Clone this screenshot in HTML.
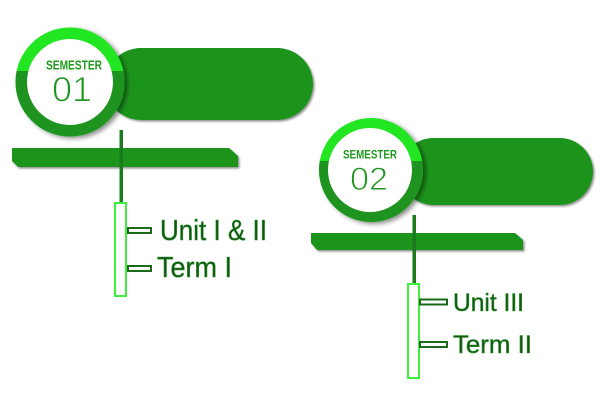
<!DOCTYPE html>
<html>
<head>
<meta charset="utf-8">
<style>
html,body{margin:0;padding:0;background:#fff;}
svg{display:block;}
</style>
</head>
<body>
<svg width="600" height="403" viewBox="0 0 600 403" xmlns="http://www.w3.org/2000/svg">
  <defs>
    <filter id="sh" x="-10%" y="-10%" width="130%" height="140%">
      <feDropShadow dx="1.5" dy="1.5" stdDeviation="1" flood-color="#000" flood-opacity="0.45"/>
    </filter>
    <filter id="csh" x="-20%" y="-20%" width="150%" height="150%">
      <feDropShadow dx="3" dy="2" stdDeviation="2.5" flood-color="#000" flood-opacity="0.45"/>
    </filter>
    <clipPath id="low1"><rect x="0" y="71" width="200" height="100"/></clipPath>
    <clipPath id="low2"><rect x="300" y="161" width="200" height="100"/></clipPath>
  </defs>

  <!-- ===== Semester 1 ===== -->
  <rect x="105" y="48" width="208" height="72" rx="36" ry="36" fill="#1f941f" filter="url(#sh)"/>
  <polygon points="12,148 229,148 238,156 238,167 18,167 12,161" fill="#1f941f" filter="url(#sh)"/>
  <rect x="119.5" y="130" width="3.5" height="73" fill="#1b7a1b"/>
  <g filter="url(#csh)">
    <circle cx="70" cy="82" r="54.5" fill="#22e622"/>
  </g>
  <circle cx="70" cy="82" r="54.5" fill="#1f931f" clip-path="url(#low1)"/>
  <circle cx="70" cy="82" r="43" fill="#fff"/>
  <text x="46" y="69.5" font-family="'Liberation Sans', sans-serif" font-size="13" font-weight="bold" fill="#1f9a1f" textLength="56" lengthAdjust="spacingAndGlyphs">SEMESTER</text>
  <text x="52" y="101.5" font-family="'Liberation Sans', sans-serif" font-size="35" fill="#1f951f" stroke="#fff" stroke-width="0.9" textLength="40" lengthAdjust="spacingAndGlyphs">01</text>

  <rect x="115" y="203" width="11" height="93" fill="#fff" stroke="#3df03d" stroke-width="2"/>
  <rect x="128" y="228" width="23" height="5" fill="#fff" stroke="#1a6a1a" stroke-width="2"/>
  <rect x="128" y="266" width="23" height="5" fill="#fff" stroke="#1a6a1a" stroke-width="2"/>
  <text x="160" y="240" font-family="'Liberation Sans', sans-serif" font-size="29" fill="#155515" stroke="#2f9a2f" stroke-width="0.6" textLength="107" lengthAdjust="spacingAndGlyphs">Unit I &amp; II</text>
  <text x="157" y="277" font-family="'Liberation Sans', sans-serif" font-size="29" fill="#155515" stroke="#2f9a2f" stroke-width="0.6" textLength="75" lengthAdjust="spacingAndGlyphs">Term I</text>

  <!-- ===== Semester 2 ===== -->
  <rect x="400" y="138" width="193" height="67" rx="33.5" ry="33.5" fill="#1f941f" filter="url(#sh)"/>
  <polygon points="311,233 515,233 523,240 523,250 317,250 311,243" fill="#1f941f" filter="url(#sh)"/>
  <rect x="412.5" y="215" width="3.5" height="69" fill="#1b7a1b"/>
  <g filter="url(#csh)">
    <circle cx="371" cy="170" r="52" fill="#22e622"/>
  </g>
  <circle cx="371" cy="170" r="52" fill="#1f931f" clip-path="url(#low2)"/>
  <circle cx="370" cy="170" r="42" fill="#fff"/>
  <text x="343" y="158.5" font-family="'Liberation Sans', sans-serif" font-size="12" font-weight="bold" fill="#1f9a1f" textLength="54" lengthAdjust="spacingAndGlyphs">SEMESTER</text>
  <text x="350" y="190" font-family="'Liberation Sans', sans-serif" font-size="32" fill="#1f951f" stroke="#fff" stroke-width="0.9" textLength="38" lengthAdjust="spacingAndGlyphs">02</text>

  <rect x="408" y="284" width="11" height="94" fill="#fff" stroke="#3df03d" stroke-width="2"/>
  <rect x="420" y="299.5" width="27" height="5" fill="#fff" stroke="#1a6a1a" stroke-width="2"/>
  <rect x="420" y="342" width="27" height="5" fill="#fff" stroke="#1a6a1a" stroke-width="2"/>
  <text x="453" y="311" font-family="'Liberation Sans', sans-serif" font-size="25" fill="#155515" stroke="#2f9a2f" stroke-width="0.6" textLength="71" lengthAdjust="spacingAndGlyphs">Unit III</text>
  <text x="453" y="353" font-family="'Liberation Sans', sans-serif" font-size="25" fill="#155515" stroke="#2f9a2f" stroke-width="0.6" textLength="79" lengthAdjust="spacingAndGlyphs">Term II</text>
</svg>
</body>
</html>
